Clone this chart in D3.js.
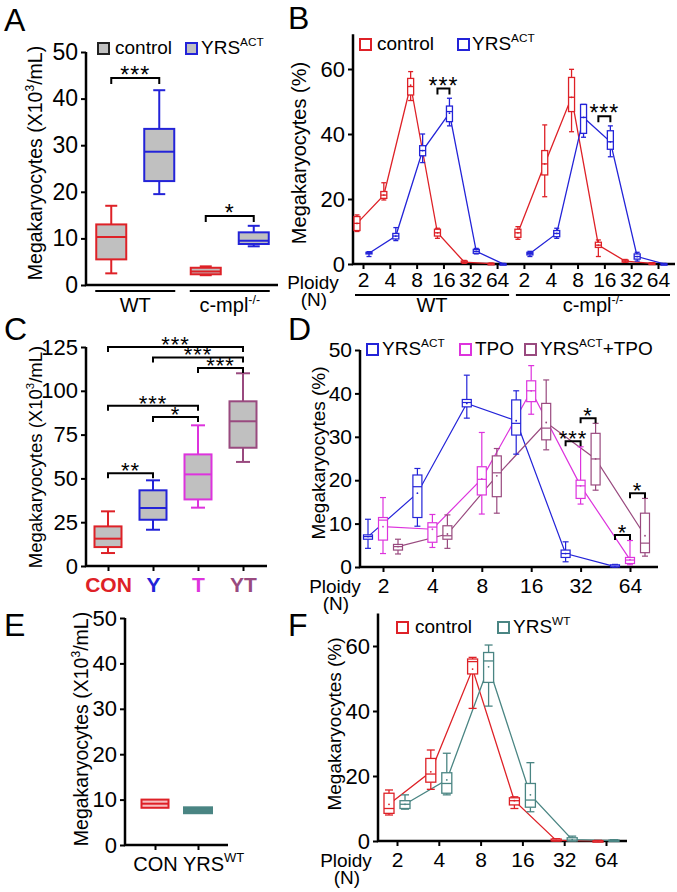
<!DOCTYPE html>
<html>
<head>
<meta charset="utf-8">
<script src="https://cdn.jsdelivr.net/npm/d3@7"></script>
<style>
  body { margin: 0; background: #fff; }
  svg { font-family: Arial, "Liberation Sans", sans-serif; }
</style>
</head>
<body>
<div class="canvas"></div>
<script>
// ---------- data ----------
// every box is [min, q1, median, q3, max]
const groupsA = ['WT', 'c-mpl'];
const controlA = [[2.5, 5.5, 10.3, 13, 17], [2.1, 2.3, 2.9, 3.7, 4.0]];
const yrsA = [[19.5, 22.3, 28.6, 33.5, 41.8], [8.3, 8.8, 9.5, 11.3, 12.7]];
const ticksA = [0, 10, 20, 30, 40, 50];

const ploidy = ['2', '4', '8', '16', '32', '64'];

// B - WT block
const controlBwt = [[10, 10.3, 12.5, 14.6, 15.1], [19.7, 20.2, 21.2, 22.3, 25], [50.3, 52, 54.6, 57.1, 59.2],
  [7.9, 8.6, 9.6, 10.7, 11], [0.2, 0.4, 0.6, 0.9, 1.1], [0, 0, 0.1, 0.2, 0.3]];
const controlBwtMean = [12.5, 21.2, 55, 9.6, 0.6, 0.1];
const yrsBwt = [[2.3, 3.1, 3.3, 3.6, 3.8], [7.2, 7.7, 8.6, 9.4, 11.2], [31.2, 33.3, 34.9, 36.4, 40],
  [42.5, 43.8, 46.9, 48.6, 51], [3.1, 3.3, 3.9, 4.5, 4.8], [0, 0, 0, 0.1, 0.2]];
const yrsBwtMean = [3.3, 8.6, 34.9, 46.4, 3.9, 0.05];
// B - c-mpl-/- block
const controlBko = [[7.6, 8.2, 9.6, 10.7, 11.5], [20.7, 27.4, 30.8, 34.9, 42.8], [40.7, 46.9, 51.3, 57.4, 59.9],
  [2.3, 5.1, 5.8, 6.7, 7.4], [0.5, 0.6, 0.9, 1.2, 1.4], [0, 0.1, 0.2, 0.3, 0.4]];
const controlBkoMean = [9.6, 30.8, 51.3, 5.8, 0.9, 0.2];
const yrsBko = [[2.3, 2.8, 3.2, 3.6, 3.9], [7.9, 8.4, 9.4, 10.3, 11], [39, 40.2, 45.1, 49.1, 49.1],
  [33, 35.3, 37.6, 41, 42.5], [0.9, 1.5, 2.3, 3.1, 3.6], [0, 0, 0, 0.1, 0.2]];
const yrsBkoMean = [3.2, 9.4, 45.1, 37.6, 2.3, 0.05];
const ticksB = [0, 20, 40, 60];

// C
const catsC = ['CON', 'Y', 'T', 'YT'];
const boxesC = [[7.4, 10.8, 15.6, 22.6, 31.2], [20.7, 26.4, 33.1, 43.2, 48.9],
  [33.3, 38, 52.3, 63.7, 80.3], [59.4, 67.5, 82.6, 94, 110]];
const ticksC = [0, 25, 50, 75, 100, 125];
// [from, to, bracket height, label]
const sigC = [[0, 3, 125, '***'], [1, 3, 119, '***'], [2, 3, 113, '***'],
  [0, 2, 91.4, '***'], [1, 2, 85, '*'], [0, 1, 53, '**']];

// D
const yrsD = [[4.3, 6.4, 7, 7.4, 11], [9.4, 11.4, 18.5, 21.2, 22.7], [34.3, 36.9, 37.9, 38.6, 44.2],
  [26, 30.4, 33.1, 38.5, 40.6], [1.2, 2.2, 3.1, 3.9, 5.8], [0, 0, 0.2, 0.5, 0.6]];
const yrsDmean = [7, 17, 37.7, 33.7, 3.1, 0.1];
const tpoD = [[3.1, 6.2, 10.8, 11.4, 16], [4.5, 5.7, 9.2, 10.2, 12.1], [12.2, 16.6, 20.2, 23.1, 31],
  [35.2, 38.1, 40.6, 42.9, 46.4], [14.5, 15.8, 18.7, 20, 27.7], [0.5, 0.8, 1.6, 2.2, 6.1]];
const tpoDmean = [9.3, 8.7, 20.3, 40.6, 18.7, 1.7];
const ytD = [[3, 3.9, 4.7, 5.2, 6.4], [4.3, 6.4, 7.2, 9.5, 12], [12.4, 16.2, 21.7, 25.6, 27.3],
  [27, 29.3, 32, 37.7, 43.1], [17.7, 18.9, 24.9, 30.8, 33.1], [2.5, 3.3, 5.5, 12.4, 15.8]];
const ytDmean = [4.7, 7.6, 21, 33.3, 24.9, 7.2];
const ticksD = [0, 10, 20, 30, 40, 50];
// [ploidy, series from, series to, height, label]
const sigD = [['32', 0, 1, 29, '***'], ['32', 1, 2, 34.3, '*'], ['64', 0, 1, 7.4, '*'], ['64', 1, 2, 17, '*']];

// E
const catsE = ['CON', 'YRS'];
const boxesE = [[8.2, 8.2, 9.1, 10, 10], [7.0, 7.0, 7.6, 8.3, 8.3]];
const ticksE = [0, 10, 20, 30, 40, 50];

// F
const controlF = [[8, 8.5, 10, 14.7, 15.7], [15.9, 18.1, 20.6, 25.4, 28], [40.8, 51.4, 55.2, 56, 56.5],
  [10, 11.1, 12.4, 13.3, 13.6], [0, 0, 0.2, 0.6, 0.7], [0, 0, 0, 0.1, 0.2]];
const controlFmean = [11.3, 21.3, 52.9, 12.4, 0.2, 0.05];
const yrsF = [[9.8, 10, 11.3, 12.4, 14.2], [14.2, 14.7, 17.7, 21, 27], [41.5, 48.8, 55.4, 58, 60.3],
  [9, 10.4, 12.6, 17.7, 24.1], [0, 0, 0.3, 1, 1.5], [0, 0, 0.1, 0.3, 0.4]];
const yrsFmean = [11.3, 18.8, 53.6, 14.2, 0.4, 0.1];
const ticksF = [0, 20, 40, 60];

// colours
const RED = '#de2127', BLUE = '#2323d8', MAG = '#dd33dd', PUR = '#994a7f', TEAL = '#4a8583', GREY = '#c0c0c0';

// ---------- helpers ----------
const svg = d3.select('.canvas').append('svg')
  .attr('width', 677)
  .attr('height', 892);

// text with superscripts, parts = [[str, isSup], ...]
const rich = (g, x, y, parts, size, anchor) => {
  const t = g.append('text')
    .attr('x', x).attr('y', y)
    .attr('font-size', size)
    .attr('text-anchor', anchor || 'start')
    .attr('fill', '#000');
  let up = false;
  parts.forEach(([str, sup]) => {
    const ts = t.append('tspan').text(str);
    if (sup) ts.attr('font-size', size * 0.62);
    if (sup && !up) { ts.attr('dy', -size * 0.42); up = true; }
    else if (!sup && up) { ts.attr('dy', size * 0.42); up = false; }
  });
  return t;
};

// "Ploidy" over "(N)" as one text block
const ploidyLabel = (x, y, size) => {
  const t = svg.append('text')
    .attr('font-size', size)
    .attr('text-anchor', 'middle');
  t.append('tspan').attr('x', x).attr('y', y).text('Ploidy');
  t.append('tspan').attr('x', x + 1).attr('dy', 17).text('(N)');
};

const yLabel = (x, y, parts, size) => {
  const g = svg.append('g').attr('transform', `translate(${x},${y}) rotate(-90)`);
  rich(g, 0, 0, parts, size, 'middle');
};

const frame = (x0, x1, y0, y1) => {
  // y axis line + x axis line
  svg.append('path')
    .attr('d', `M${x0},${y1}V${y0}H${x1}`)
    .attr('fill', 'none')
    .attr('stroke', '#000')
    .attr('stroke-width', 2.5);
};

const styleAxis = (g, size) => {
  g.select('.domain').remove();
  g.selectAll('.tick line').attr('stroke', '#000').attr('stroke-width', 2);
  g.selectAll('.tick text').attr('font-size', size).attr('fill', '#000').attr('font-family', null);
};

const drawBox = (g, s, cx, y, o) => {
  const [lo, q1, md, q3, hi] = s;
  const b = g.append('g')
    .attr('stroke', o.color)
    .attr('stroke-width', o.sw)
    .attr('fill', 'none');
  b.append('line').attr('x1', cx).attr('x2', cx).attr('y1', y(hi)).attr('y2', y(q3));
  b.append('line').attr('x1', cx).attr('x2', cx).attr('y1', y(q1)).attr('y2', y(lo));
  if (o.cap) {
    b.append('line').attr('x1', cx - o.cap).attr('x2', cx + o.cap).attr('y1', y(hi)).attr('y2', y(hi));
    b.append('line').attr('x1', cx - o.cap).attr('x2', cx + o.cap).attr('y1', y(lo)).attr('y2', y(lo));
  }
  b.append('rect')
    .attr('x', cx - o.w / 2)
    .attr('y', y(q3))
    .attr('width', o.w)
    .attr('height', Math.max(y(q1) - y(q3), 1.5))
    .attr('fill', o.fill || '#fff');
  b.append('line')
    .attr('x1', cx - o.w / 2).attr('x2', cx + o.w / 2)
    .attr('y1', y(md)).attr('y2', y(md));
};

const bracket = (x1, x2, yy, leg, label, size) => {
  svg.append('path')
    .attr('d', `M${x1},${yy + leg}V${yy}H${x2}V${yy + leg}`)
    .attr('fill', 'none')
    .attr('stroke', '#000')
    .attr('stroke-width', 2);
  svg.append('text')
    .attr('x', (x1 + x2) / 2)
    .attr('y', yy + size * 0.22)
    .attr('text-anchor', 'middle')
    .attr('font-size', size)
    .attr('letter-spacing', 1)
    .text(label);
};

const square = (x, y, color, fill) => {
  svg.append('rect')
    .attr('x', x).attr('y', y)
    .attr('width', 11).attr('height', 11)
    .attr('fill', fill || '#fff')
    .attr('stroke', color)
    .attr('stroke-width', 2);
};

const panelLetter = (x, y, s) => {
  svg.append('text').attr('x', x).attr('y', y).attr('font-size', 32).text(s);
};

// line + boxes for one ploidy series
const series = (g, boxes, means, xPos, y, o) => {
  const line = d3.line().x((d, i) => xPos(i)).y(d => y(d));
  g.append('path')
    .attr('d', line(means))
    .attr('fill', 'none')
    .attr('stroke', o.color)
    .attr('stroke-width', o.lw);
  return () => {
    boxes.forEach((s, i) => drawBox(g, s, xPos(i), y, o));
    g.selectAll(null).data(means).enter().append('circle')
      .attr('cx', (d, i) => xPos(i))
      .attr('cy', d => y(d))
      .attr('r', 0.9)
      .attr('fill', o.color);
  };
};

// ---------- A ----------
panelLetter(4, 31, 'A');
const yA = d3.scaleLinear().domain([0, 50]).range([285, 52]);
const xA = d3.scaleBand().domain(groupsA).range([88, 277]);
frame(86, 278, 285, 52);
svg.append('g').attr('transform', 'translate(86,0)')
  .call(d3.axisLeft(yA).tickValues(ticksA).tickSize(5).tickPadding(3).tickSizeOuter(0))
  .call(g => styleAxis(g, 23));

const gA = svg.append('g');
groupsA.forEach((grp, i) => {
  const c = xA(grp) + xA.bandwidth() / 2;
  drawBox(gA, controlA[i], c - 24, yA, { color: RED, sw: 2, w: 30, cap: 6, fill: GREY });
  drawBox(gA, yrsA[i], c + 24, yA, { color: BLUE, sw: 2, w: 30, cap: 6, fill: GREY });
  // group underline
  svg.append('line')
    .attr('x1', c - 40).attr('x2', c + 40)
    .attr('y1', 291).attr('y2', 291)
    .attr('stroke', '#000').attr('stroke-width', 2);
});
bracket(xA('WT') + xA.bandwidth() / 2 - 24, xA('WT') + xA.bandwidth() / 2 + 24, yA(44.4), 6, '***', 23);
bracket(xA('c-mpl') + xA.bandwidth() / 2 - 24, xA('c-mpl') + xA.bandwidth() / 2 + 24, yA(14.8), 6, '*', 23);
rich(svg, xA('WT') + xA.bandwidth() / 2, 312, [['WT']], 20, 'middle');
rich(svg, xA('c-mpl') + xA.bandwidth() / 2, 312, [['c-mpl'], ['-/-', true]], 20, 'middle');

square(98, 43, '#222', GREY);
rich(svg, 115, 54, [['control']], 19);
square(186, 43, BLUE, GREY);
rich(svg, 201, 54, [['YRS'], ['ACT', true]], 19);
yLabel(42, 163, [['Megakaryocytes (X10'], ['3', true], ['/mL)']], 19.5);

// ---------- B ----------
panelLetter(288, 29, 'B');
const yB = d3.scaleLinear().domain([0, 60]).range([264, 69]);
const xB = d3.scalePoint().domain(d3.range(12)).range([363, 658]);
frame(353, 675, 264, yB(70.7));
svg.append('g').attr('transform', 'translate(353,0)')
  .call(d3.axisLeft(yB).tickValues(ticksB).tickSize(5).tickPadding(3).tickSizeOuter(0))
  .call(g => styleAxis(g, 22));
svg.append('g').attr('transform', 'translate(0,264)')
  .call(d3.axisBottom(xB).tickSize(5).tickPadding(3).tickFormat(i => ploidy[i % 6]))
  .call(g => styleAxis(g, 21));

const gB = svg.append('g');
const optRedB = { color: RED, sw: 1.3, w: 6, cap: 2.5, lw: 1.3 };
const optBlueB = { color: BLUE, sw: 1.3, w: 6, cap: 2.5, lw: 1.3 };
const drawsB = [
  series(gB, controlBwt, controlBwtMean, i => xB(i) - 6, yB, optRedB),
  series(gB, yrsBwt, yrsBwtMean, i => xB(i) + 6, yB, optBlueB),
  series(gB, controlBko, controlBkoMean, i => xB(i + 6) - 6, yB, optRedB),
  series(gB, yrsBko, yrsBkoMean, i => xB(i + 6) + 6, yB, optBlueB)
];
drawsB.forEach(f => f());
bracket(xB(3) - 6, xB(3) + 6, yB(54), 6, '***', 23);
bracket(xB(9) - 6, xB(9) + 6, yB(45.5), 6, '***', 23);

[[0, 'WT'], [6, 'c-mpl']].forEach(([k, name]) => {
  const a = xB(k) - 8, b = xB(k + 5) + 12;
  svg.append('line').attr('x1', a).attr('x2', b).attr('y1', 295).attr('y2', 295)
    .attr('stroke', '#000').attr('stroke-width', 2);
  rich(svg, (a + b) / 2, 312, name === 'WT' ? [['WT']] : [['c-mpl'], ['-/-', true]], 20, 'middle');
});
ploidyLabel(313, 289, 19);

square(360, 39, RED);
rich(svg, 377, 50, [['control']], 19);
square(458, 39, BLUE);
rich(svg, 472, 50, [['YRS'], ['ACT', true]], 19);
yLabel(306, 153, [['Megakaryocytes (%)']], 20);

// ---------- C ----------
panelLetter(4, 340, 'C');
const yC = d3.scaleLinear().domain([0, 125]).range([566, 347]);
const xC = d3.scalePoint().domain(catsC).range([108, 243]);
const colC = [RED, BLUE, MAG, PUR];
frame(86, 267, 566, 347);
svg.append('g').attr('transform', 'translate(86,0)')
  .call(d3.axisLeft(yC).tickValues(ticksC).tickSize(5).tickPadding(3).tickSizeOuter(0))
  .call(g => styleAxis(g, 22));
svg.append('g').attr('transform', 'translate(0,566)')
  .call(d3.axisBottom(xC).tickSize(5).tickPadding(6))
  .call(g => styleAxis(g, 21))
  .call(g => g.selectAll('.tick text')
    .attr('font-weight', 'bold')
    .attr('fill', (d, i) => colC[i]));

const gC = svg.append('g');
catsC.forEach((c, i) => drawBox(gC, boxesC[i], xC(c), yC, { color: colC[i], sw: 2, w: 27, cap: 7, fill: GREY }));
sigC.forEach(([a, b, h, lab]) => bracket(xC(catsC[a]), xC(catsC[b]), yC(h), 5, lab, 22));
yLabel(42, 457, [['Megakaryocytes (X10'], ['3', true], ['/mL)']], 18.5);

// ---------- D ----------
panelLetter(288, 340, 'D');
const yD = d3.scaleLinear().domain([0, 50]).range([567, 350]);
const xD = d3.scalePoint().domain(ploidy).range([383, 630]);
frame(360, 658, 567, 350);
svg.append('g').attr('transform', 'translate(360,0)')
  .call(d3.axisLeft(yD).tickValues(ticksD).tickSize(5).tickPadding(3).tickSizeOuter(0))
  .call(g => styleAxis(g, 21));
svg.append('g').attr('transform', 'translate(0,567)')
  .call(d3.axisBottom(xD).tickSize(5).tickPadding(6))
  .call(g => styleAxis(g, 21));

const offD = [-15, 0, 15];
const gD = svg.append('g');
const drawsD = [
  series(gD, yrsD, yrsDmean, i => xD(ploidy[i]) + offD[0], yD, { color: BLUE, sw: 1.2, w: 9, cap: 3, lw: 1.2 }),
  series(gD, tpoD, tpoDmean, i => xD(ploidy[i]) + offD[1], yD, { color: MAG, sw: 1.2, w: 9, cap: 3, lw: 1.2 }),
  series(gD, ytD, ytDmean, i => xD(ploidy[i]) + offD[2], yD, { color: PUR, sw: 1.2, w: 9, cap: 3, lw: 1.2 })
];
drawsD.forEach(f => f());
sigD.forEach(([p, a, b, h, lab]) => bracket(xD(p) + offD[a], xD(p) + offD[b], yD(h), 5, lab, 22));

ploidyLabel(335, 593, 19);
square(367, 344, BLUE);
rich(svg, 382, 355, [['YRS'], ['ACT', true]], 19);
square(460, 344, MAG);
rich(svg, 475, 355, [['TPO']], 19);
square(525, 344, PUR);
rich(svg, 540, 355, [['YRS'], ['ACT', true], ['+TPO']], 19);
yLabel(325, 453, [['Megakaryocytes (%)']], 19);

// ---------- E ----------
panelLetter(4, 636, 'E');
const yE = d3.scaleLinear().domain([0, 50]).range([845, 618]);
const xE = d3.scalePoint().domain(catsE).range([155, 198]);
frame(125, 228, 845, 618);
svg.append('g').attr('transform', 'translate(125,0)')
  .call(d3.axisLeft(yE).tickValues(ticksE).tickSize(5).tickPadding(3).tickSizeOuter(0))
  .call(g => styleAxis(g, 22));
svg.append('g').attr('transform', 'translate(0,845)')
  .call(d3.axisBottom(xE).tickSize(5).tickPadding(7))
  .call(g => styleAxis(g, 20))
  .call(g => g.selectAll('.tick text').filter(d => d === 'YRS')
    .each(function() {
      // centre the "YRS" part on the tick, the superscript hangs to the right
      const w = this.getComputedTextLength();
      d3.select(this).attr('text-anchor', 'start').attr('x', -w / 2 + 5);
    })
    .append('tspan').attr('font-size', 13).attr('dy', -9).text('WT'));

const gE = svg.append('g');
drawBox(gE, boxesE[0], xE('CON'), yE, { color: RED, sw: 2, w: 27, cap: 0, fill: '#f6c0c0' });
drawBox(gE, boxesE[1], xE('YRS'), yE, { color: TEAL, sw: 2, w: 28, cap: 0, fill: TEAL });
yLabel(88, 729, [['Megakaryocytes (X10'], ['3', true], ['/mL)']], 19.5);

// ---------- F ----------
panelLetter(288, 636, 'F');
const yF = d3.scaleLinear().domain([0, 60]).range([841, 646]);
const xF = d3.scalePoint().domain(ploidy).range([397, 606]);
frame(378, 627, 841, yF(70));
svg.append('g').attr('transform', 'translate(378,0)')
  .call(d3.axisLeft(yF).tickValues(ticksF).tickSize(5).tickPadding(3).tickSizeOuter(0))
  .call(g => styleAxis(g, 22));
svg.append('g').attr('transform', 'translate(0,841)')
  .call(d3.axisBottom(xF).tickSize(5).tickPadding(6))
  .call(g => styleAxis(g, 21));

const gF = svg.append('g');
const drawsF = [
  series(gF, controlF, controlFmean, i => xF(ploidy[i]) - 8, yF, { color: RED, sw: 1.3, w: 10, cap: 4, lw: 1.3 }),
  series(gF, yrsF, yrsFmean, i => xF(ploidy[i]) + 8, yF, { color: TEAL, sw: 1.3, w: 10, cap: 4, lw: 1.3 })
];
drawsF.forEach(f => f());

ploidyLabel(346, 867, 19);
square(397, 622, RED);
rich(svg, 415, 633, [['control']], 19);
square(498, 622, TEAL);
rich(svg, 513, 633, [['YRS'], ['WT', true]], 19);
yLabel(341, 724, [['Megakaryocytes (%)']], 19);
</script>
</body>
</html>
